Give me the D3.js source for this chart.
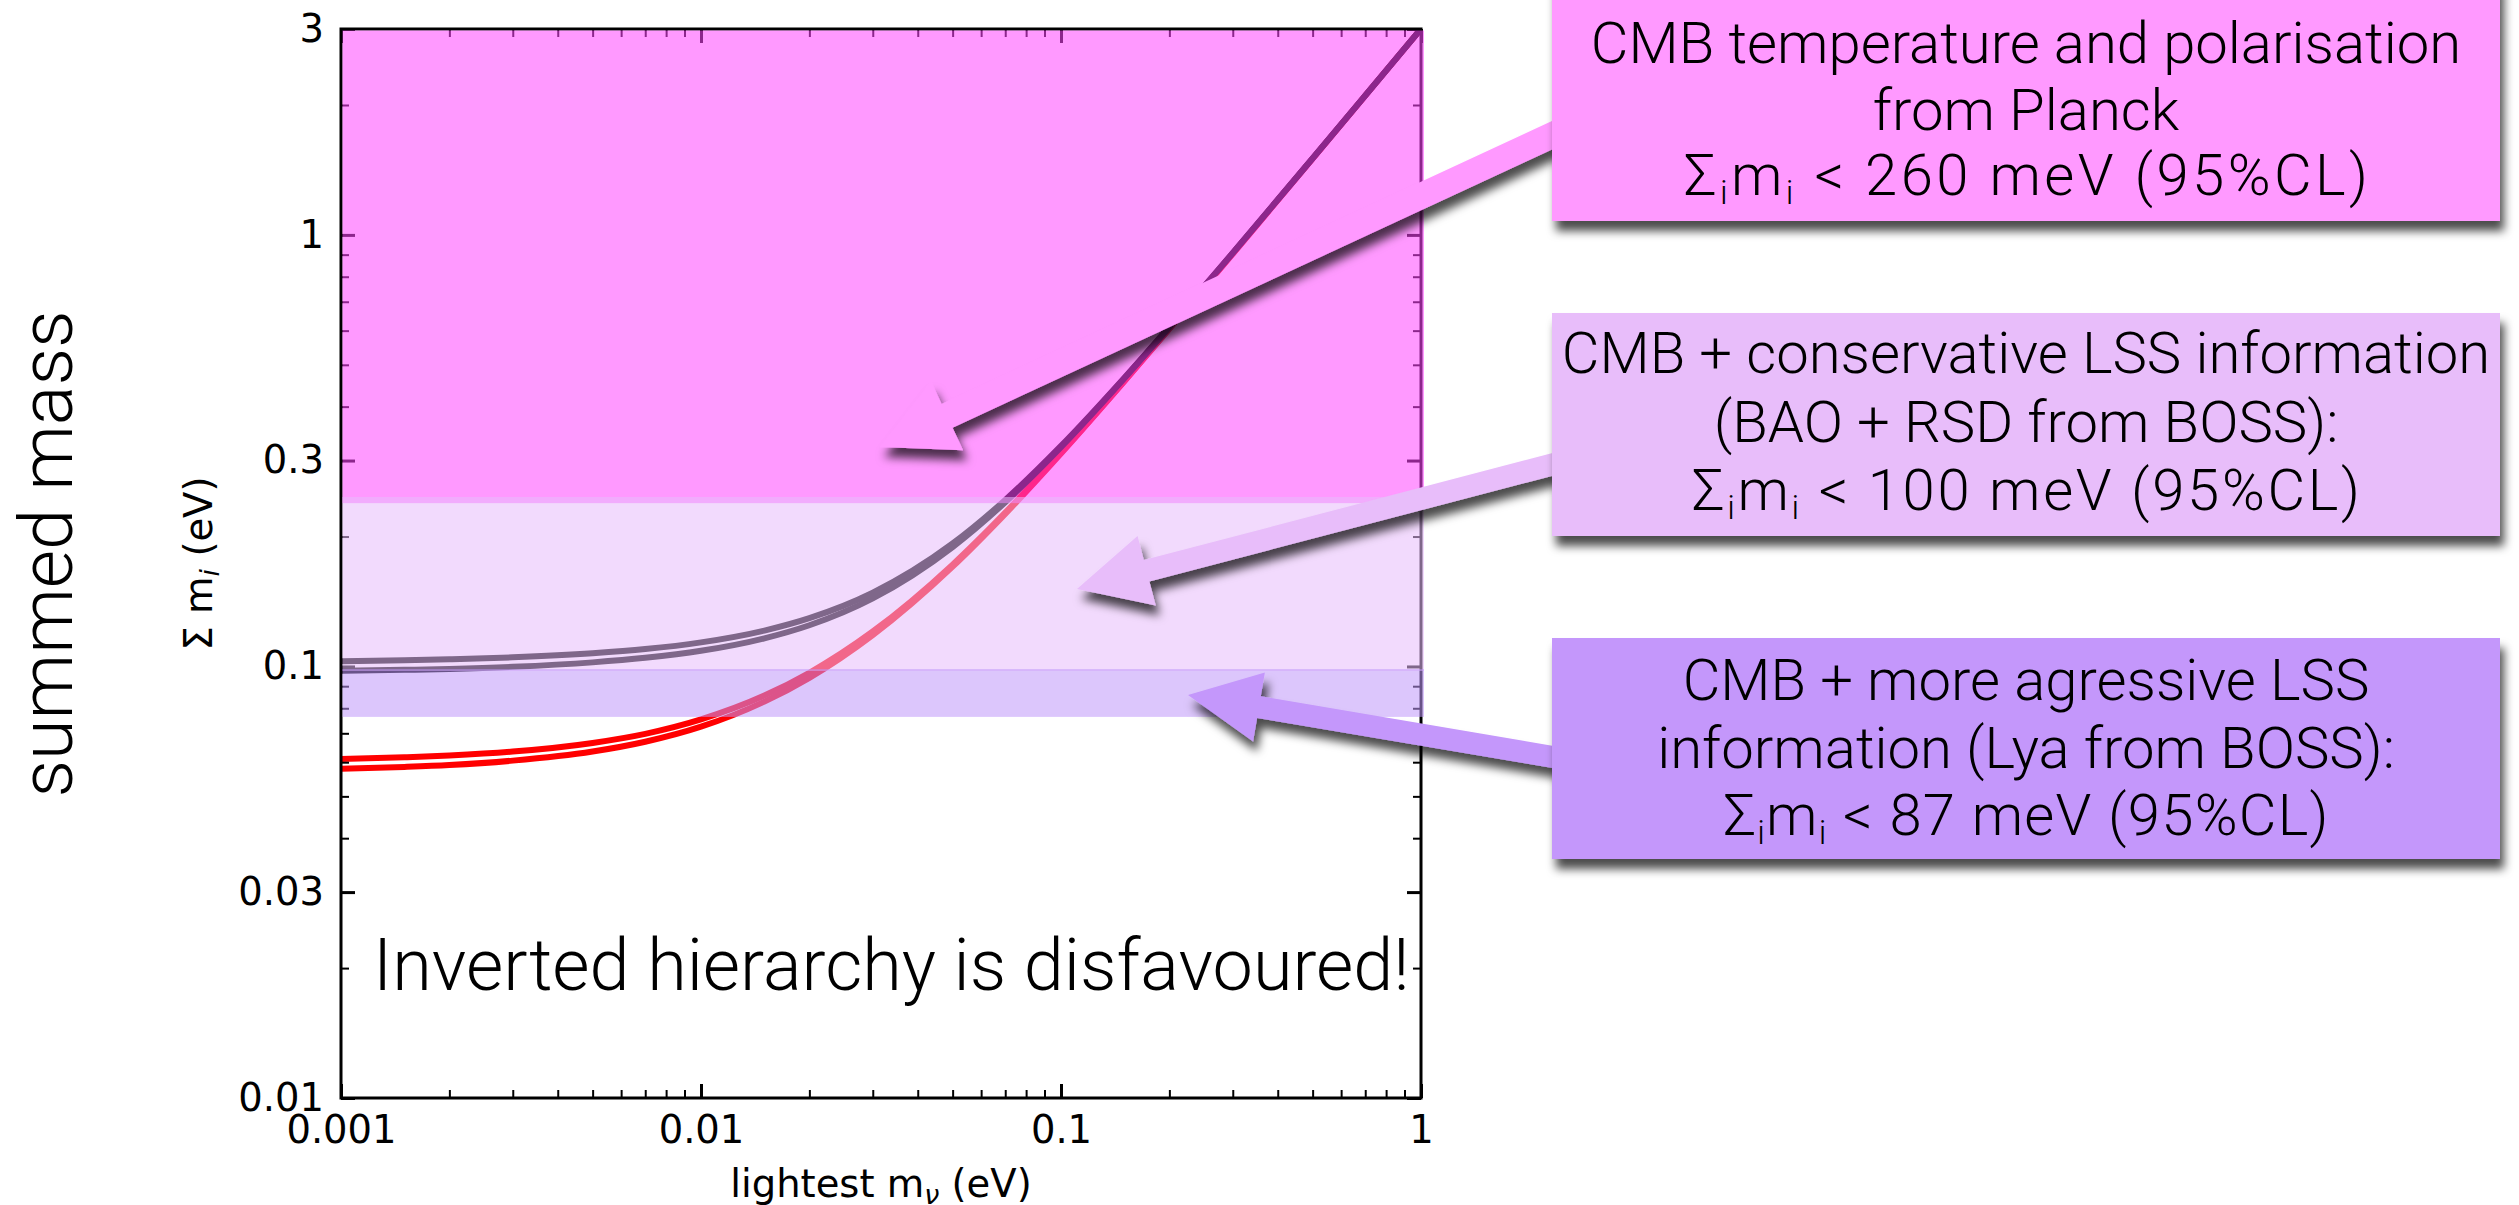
<!DOCTYPE html>
<html>
<head>
<meta charset="UTF-8">
<title>Summed neutrino mass vs lightest mass</title>
<script src="https://d3js.org/d3.v7.min.js"></script>
<style>
  body { margin: 0; background: #fff; }
  svg { display: block; }
  .note { font-family: Roboto, "Liberation Sans", Arial, sans-serif; font-weight: 300; fill: #000; }
  .mpl { font-family: "DejaVu Sans", sans-serif; fill: #000; }
</style>
</head>
<body>
<script>
// lightest neutrino mass (eV) where the curves were read
const lightest = [0.001, 0.0015, 0.002, 0.003, 0.005, 0.007, 0.01, 0.015, 0.02, 0.03, 0.05, 0.07, 0.1, 0.15, 0.2, 0.3, 0.5, 0.7, 1];
// summed mass (eV): lower / upper edge of each hierarchy
const normalLow    = [0.0579, 0.0585, 0.0591, 0.0605, 0.0635, 0.0669, 0.0725, 0.0829, 0.0941, 0.1182, 0.1703, 0.2257, 0.3115, 0.4579, 0.6060, 0.9040, 1.5024, 2.1017, 3.0012];
const normalHigh   = [0.0610, 0.0616, 0.0622, 0.0635, 0.0665, 0.0698, 0.0754, 0.0856, 0.0967, 0.1205, 0.1722, 0.2272, 0.3127, 0.4587, 0.6066, 0.9044, 1.5027, 2.1019, 3.0013];
const invertedLow  = [0.0977, 0.0982, 0.0987, 0.0998, 0.1022, 0.1047, 0.1087, 0.1162, 0.1246, 0.1438, 0.1891, 0.2401, 0.3221, 0.4652, 0.6115, 0.9077, 1.5047, 2.1033, 3.0023];
const invertedHigh = [0.1028, 0.1033, 0.1039, 0.1050, 0.1073, 0.1097, 0.1137, 0.1211, 0.1294, 0.1482, 0.1927, 0.2431, 0.3244, 0.4668, 0.6128, 0.9086, 1.5052, 2.1037, 3.0026];

// excluded regions (as drawn on the picture), eV
const bandLow  = [0.239, 0.0976, 0.0764];
const bandHigh = [3, 0.247, 0.0986];
const bandFill = ["rgb(255,70,255)", "rgb(231,188,251)", "rgb(191,151,250)"];

// annotation boxes
const boxFill = ["#ff99ff", "#e8bdfa", "#c497fb"];
const boxTitle = [
  ["CMB temperature and polarisation", "from Planck"],
  ["CMB + conservative LSS information", "(BAO + RSD from BOSS):"],
  ["CMB + more agressive LSS", "information (Lya from BOSS):"]
];
const boxLimit = [260, 100, 87]; // meV

// ticks
const xMajor = [0.001, 0.01, 0.1, 1];
const xTickLabels = ["0.001", "0.01", "0.1", "1"];
const yMajor = [0.01, 0.03, 0.1, 0.3, 1, 3];
const yTickLabels = ["0.01", "0.03", "0.1", "0.3", "1", "3"];

const W = 2519, H = 1205;
const plot = { left: 341, right: 1421, top: 29, bottom: 1098 };

const x = d3.scaleLog().domain([0.001, 1]).range([plot.left, plot.right]);
const y = d3.scaleLog().domain([0.01, 3]).range([plot.bottom, plot.top]);

const xMinor = [], yMinor = [];
[0.001, 0.01, 0.1].forEach(dec => [2, 3, 4, 5, 6, 7, 8, 9].forEach(k => xMinor.push(dec * k)));
[0.01, 0.1, 1].forEach(dec => [2, 4, 5, 6, 7, 8, 9].forEach(k => { if (dec * k < 3) yMinor.push(dec * k); }));

const svg = d3.select("body").append("svg").attr("width", W).attr("height", H);
const defs = svg.append("defs");
defs.append("clipPath").attr("id", "clip").append("rect")
    .attr("x", plot.left).attr("y", plot.top)
    .attr("width", plot.right - plot.left).attr("height", plot.bottom - plot.top);
defs.append("filter").attr("id", "shadow")
    .attr("filterUnits", "userSpaceOnUse").attr("x", 0).attr("y", 0).attr("width", W).attr("height", H)
  .append("feDropShadow")
    .attr("dx", 4).attr("dy", 10).attr("stdDeviation", 5)
    .attr("flood-color", "#000").attr("flood-opacity", 0.7);

// curves (normal first, inverted on top)
const line = d3.line().x((d, i) => x(lightest[i])).y(d => y(d)).curve(d3.curveMonotoneX);
const curves = svg.append("g").attr("clip-path", "url(#clip)").attr("fill", "none").attr("stroke-width", 6);
[[normalHigh, "#ff0000"], [normalLow, "#ff0000"], [invertedHigh, "#000"], [invertedLow, "#000"]]
  .forEach(([vals, c]) => curves.append("path").attr("d", line(vals)).attr("stroke", c));

// axes, ticks pointing inward on all sides
function styleAxis(g, w) {
  g.select(".domain").remove();
  g.selectAll(".tick line").attr("stroke-width", w);
  g.attr("font-family", "DejaVu Sans").attr("font-size", 38.5);
  g.selectAll(".tick text").attr("fill", "#000");
}
svg.append("g").attr("transform", `translate(0,${plot.bottom})`)
  .call(d3.axisBottom(x).tickValues(xMajor).tickFormat((d, i) => xTickLabels[i]).tickSize(-14).tickPadding(18))
  .call(g => styleAxis(g, 3));
svg.append("g").attr("transform", `translate(0,${plot.bottom})`)
  .call(d3.axisBottom(x).tickValues(xMinor).tickFormat("").tickSize(-8))
  .call(g => styleAxis(g, 2));
svg.append("g").attr("transform", `translate(0,${plot.top})`)
  .call(d3.axisTop(x).tickValues(xMajor).tickFormat("").tickSize(-14))
  .call(g => styleAxis(g, 3));
svg.append("g").attr("transform", `translate(0,${plot.top})`)
  .call(d3.axisTop(x).tickValues(xMinor).tickFormat("").tickSize(-8))
  .call(g => styleAxis(g, 2));
svg.append("g").attr("transform", `translate(${plot.left},0)`)
  .call(d3.axisLeft(y).tickValues(yMajor).tickFormat((d, i) => yTickLabels[i]).tickSize(-14).tickPadding(17))
  .call(g => styleAxis(g, 3));
svg.append("g").attr("transform", `translate(${plot.left},0)`)
  .call(d3.axisLeft(y).tickValues(yMinor).tickFormat("").tickSize(-8))
  .call(g => styleAxis(g, 2));
svg.append("g").attr("transform", `translate(${plot.right},0)`)
  .call(d3.axisRight(y).tickValues(yMajor).tickFormat("").tickSize(-14))
  .call(g => styleAxis(g, 3));
svg.append("g").attr("transform", `translate(${plot.right},0)`)
  .call(d3.axisRight(y).tickValues(yMinor).tickFormat("").tickSize(-8))
  .call(g => styleAxis(g, 2));

svg.append("rect")
  .attr("x", plot.left).attr("y", plot.top)
  .attr("width", plot.right - plot.left).attr("height", plot.bottom - plot.top)
  .attr("fill", "none").attr("stroke", "#000").attr("stroke-width", 3);

// translucent bands laid over the plot
bandLow.forEach((lo, i) => {
  const top = Math.max(y(bandHigh[i]), plot.top + 1.5);
  svg.append("rect")
    .attr("x", plot.left + 1.5).attr("y", top)
    .attr("width", plot.right - plot.left + 1.5).attr("height", y(lo) - top)
    .attr("fill", bandFill[i]).attr("fill-opacity", 0.55);
});

svg.append("text").attr("class", "note")
  .attr("x", 373).attr("y", 990).attr("font-size", 72)
  .text("Inverted hierarchy is disfavoured!");

// axis titles
const xl = svg.append("text").attr("class", "mpl").attr("font-size", 38.5)
  .attr("x", (plot.left + plot.right) / 2).attr("y", 1197).attr("text-anchor", "middle");
xl.append("tspan").text("lightest m");
xl.append("tspan").attr("font-size", 27).attr("font-style", "italic").attr("dy", 7).text("ν");
xl.append("tspan").attr("dy", -7).text(" (eV)");

const yl = svg.append("text").attr("class", "mpl").attr("font-size", 38.5)
  .attr("transform", `translate(212,${(plot.top + plot.bottom) / 2}) rotate(-90)`)
  .attr("text-anchor", "middle");
yl.append("tspan").text("Σ m");
yl.append("tspan").attr("font-size", 27).attr("font-style", "italic").attr("dy", 7).text("i");
yl.append("tspan").attr("dy", -7).text(" (eV)");

svg.append("text").attr("class", "note").attr("font-size", 74)
  .attr("transform", "translate(72,554) rotate(-90)").attr("text-anchor", "middle")
  .text("summed mass");

// block arrows from the boxes into the plot
const arrows = [
  { tip: [880, 447],  tail: [1600, 113], half: 13, headHalf: 38, headLen: 74 },
  { tip: [1077, 589], tail: [1600, 452], half: 11, headHalf: 36, headLen: 72 },
  { tip: [1188, 695], tail: [1600, 765], half: 11, headHalf: 35, headLen: 72 }
];
function arrowPath(a) {
  const [tx, ty] = a.tail, [px, py] = a.tip;
  const len = Math.hypot(px - tx, py - ty);
  const ux = (px - tx) / len, uy = (py - ty) / len;
  const nx = -uy, ny = ux;
  const bx = px - ux * a.headLen, by = py - uy * a.headLen;
  return d3.line()([
    [tx + nx * a.half, ty + ny * a.half],
    [bx + nx * a.half, by + ny * a.half],
    [bx + nx * a.headHalf, by + ny * a.headHalf],
    [px, py],
    [bx - nx * a.headHalf, by - ny * a.headHalf],
    [bx - nx * a.half, by - ny * a.half],
    [tx - nx * a.half, ty - ny * a.half]
  ]) + "Z";
}
arrows.forEach((a, i) => {
  svg.append("path").attr("d", arrowPath(a)).attr("fill", boxFill[i]).attr("filter", "url(#shadow)");
});

// boxes
const boxes = [
  { x: 1552, y: -20, w: 948, h: 241, base: [63, 130, 195], sumWidth: 684 },
  { x: 1552, y: 313, w: 948, h: 223, base: [373, 442, 510], sumWidth: 668 },
  { x: 1552, y: 638, w: 948, h: 221, base: [700, 768, 835], sumWidth: 605 }
];
boxes.forEach((b, i) => {
  svg.append("rect").attr("x", b.x).attr("y", b.y).attr("width", b.w).attr("height", b.h)
    .attr("fill", boxFill[i]).attr("filter", "url(#shadow)");
  const cx = b.x + b.w / 2;
  boxTitle[i].forEach((t, k) => {
    svg.append("text").attr("class", "note").attr("font-size", 58)
      .attr("x", cx).attr("y", b.base[k]).attr("text-anchor", "middle").text(t);
  });
  const s = svg.append("text").attr("class", "note").attr("font-size", 58)
    .attr("x", cx).attr("y", b.base[2]).attr("text-anchor", "middle")
    .attr("textLength", b.sumWidth).attr("lengthAdjust", "spacing");
  s.append("tspan").text("Σ");
  s.append("tspan").attr("font-size", 34).attr("dy", 9).text("i");
  s.append("tspan").attr("dy", -9).text("m");
  s.append("tspan").attr("font-size", 34).attr("dy", 9).text("i");
  s.append("tspan").attr("dy", -9).text(` < ${boxLimit[i]} meV (95%CL)`);
});
</script>
</body>
</html>
